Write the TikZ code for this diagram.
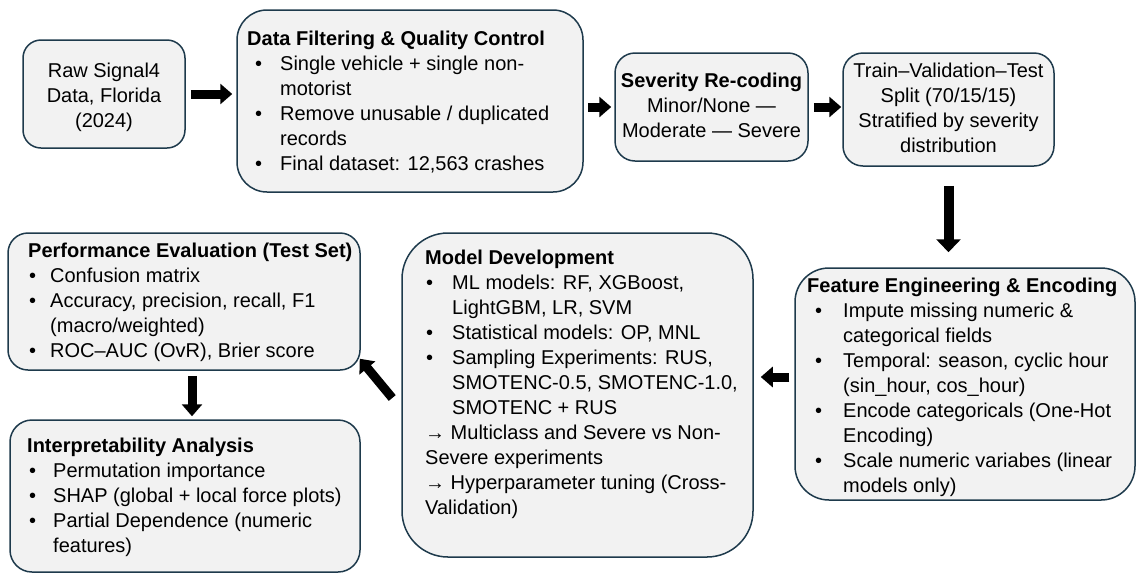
\documentclass[tikz,border=0pt]{standalone}
\usepackage{fontspec}
\setmainfont{Liberation Sans}
\usetikzlibrary{arrows.meta}
\definecolor{boxline}{HTML}{1E3A4C}
\definecolor{boxfill}{HTML}{F2F2F2}
\newcommand\fs{\fontsize{20}{25}\selectfont}
\newlength\bulletpos
\newlength\textpos
\newcommand\bitem{\makebox[\textpos][l]{\hspace*{\bulletpos}\textbullet}}
\newcommand\bcont{\hspace*{\textpos}}
\begin{document}
\begin{tikzpicture}[x=1pt,y=-1pt,
  box/.style={draw=boxline, fill=boxfill, line width=1.5pt, inner sep=0pt},
  body/.style={inner sep=0pt, anchor=north west, align=left, font=\fs},
  mid/.style={inner sep=0pt, align=center, font=\fs},
  blk/.style={line width=9pt, -{Triangle[length=12pt,width=20pt]}},
]
\useasboundingbox (0,0) rectangle (1137,574);

% process boxes
\node[box, rounded corners=18pt, minimum width=162pt, minimum height=108pt] (raw) at (104,94) {};
\node[box, rounded corners=30pt, minimum width=346pt, minimum height=182pt] (data) at (410,101) {};
\node[box, rounded corners=20pt, minimum width=193pt, minimum height=108pt] (sev) at (711.5,107) {};
\node[box, rounded corners=20pt, minimum width=211pt, minimum height=113pt] (split) at (948.5,109.5) {};
\node[box, rounded corners=34pt, minimum width=340pt, minimum height=232pt] (feat) at (965,384) {};
\node[box, rounded corners=46pt, minimum width=351pt, minimum height=324pt] (model) at (577.5,395) {};
\node[box, rounded corners=20pt, minimum width=352pt, minimum height=137pt] (perf) at (184,301.5) {};
\node[box, rounded corners=22pt, minimum width=350pt, minimum height=152pt] (interp) at (185,496) {};

% centred texts
\node[mid] (rawtxt) at ([yshift=-3pt]raw.center) {\strut Raw Signal4\\Data, Florida\\(2024)\strut};
\node[mid] (sevtxt) at (sev.center) {\strut\textbf{Severity Re-coding}\\Minor/None —\\Moderate — Severe\strut};
\node[mid] (splittxt) at (split.center) {\strut Train–Validation–Test\\Split (70/15/15)\\Stratified by severity\\distribution\strut};

% bulleted texts
\setlength\bulletpos{8pt}\setlength\textpos{33pt}
\node[body] (datatxt) at (247,27.7) {\strut\textbf{Data Filtering \& Quality Control}\\
  \bitem Single vehicle + single non-\\
  \bcont motorist\\
  \bitem Remove unusable / duplicated\\
  \bcont records\\
  \bitem Final dataset: 12,563 crashes};

\setlength\bulletpos{1pt}\setlength\textpos{27pt}
\node[body] (modeltxt) at (425,246.7) {\strut\textbf{Model Development}\\
  \bitem ML models: RF, XGBoost,\\
  \bcont LightGBM, LR, SVM\\
  \bitem Statistical models: OP, MNL\\
  \bitem Sampling Experiments: RUS,\\
  \bcont SMOTENC-0.5, SMOTENC-1.0,\\
  \bcont SMOTENC + RUS\\
  → Multiclass and Severe vs Non-\\
  Severe experiments\\
  → Hyperparameter tuning (Cross-\\
  Validation)};

\setlength\bulletpos{1pt}\setlength\textpos{22pt}
\node[body] (perftxt) at (28,239.7) {\strut\textbf{Performance Evaluation (Test Set)}\\
  \bitem Confusion matrix\\
  \bitem Accuracy, precision, recall, F1\\
  \bcont (macro/weighted)\\
  \bitem ROC–AUC (OvR), Brier score};

\setlength\bulletpos{2pt}\setlength\textpos{26pt}
\node[body] (interptxt) at (27,434.7) {\strut\textbf{Interpretability Analysis}\\
  \bitem Permutation importance\\
  \bitem SHAP (global + local force plots)\\
  \bitem Partial Dependence (numeric\\
  \bcont features)};

\setlength\bulletpos{8pt}\setlength\textpos{36pt}
\node[body] (feattxt) at (807,274.7) {\strut\textbf{Feature Engineering \& Encoding}\\
  \bitem Impute missing numeric \&\\
  \bcont categorical fields\\
  \bitem Temporal: season, cyclic hour\\
  \bcont (sin\_hour, cos\_hour)\\
  \bitem Encode categoricals (One-Hot\\
  \bcont Encoding)\\
  \bitem Scale numeric variabes (linear\\
  \bcont models only)};

% flow arrows
\draw[blk, shorten <=5pt, shorten >=4pt] (raw.east) -- (raw.east -| data.west);
\draw[blk, shorten <=4pt, shorten >=3pt] (sev.west -| data.east) -- (sev.west);
\draw[blk, shorten <=5pt, shorten >=1pt] (sev.east) -- (sev.east -| split.west);
\draw[blk, line width=10pt, -{Triangle[length=13pt,width=24pt]}, shorten <=19pt, shorten >=15pt] (split.south) -- (split.south |- feat.north);
\draw[blk, shorten <=5pt, shorten >=7pt] ([yshift=7pt]feat.west) -- ([yshift=7pt]feat.west -| model.east);
\draw[blk] ([xshift=-9pt,yshift=-3pt]model.west) -- ([xshift=-1pt,yshift=12pt]perf.south east);
\draw[blk, shorten <=5pt, shorten >=3pt] ([xshift=8pt]perf.south) -- ([xshift=8pt]perf.south |- interp.north);
\end{tikzpicture}
\end{document}
